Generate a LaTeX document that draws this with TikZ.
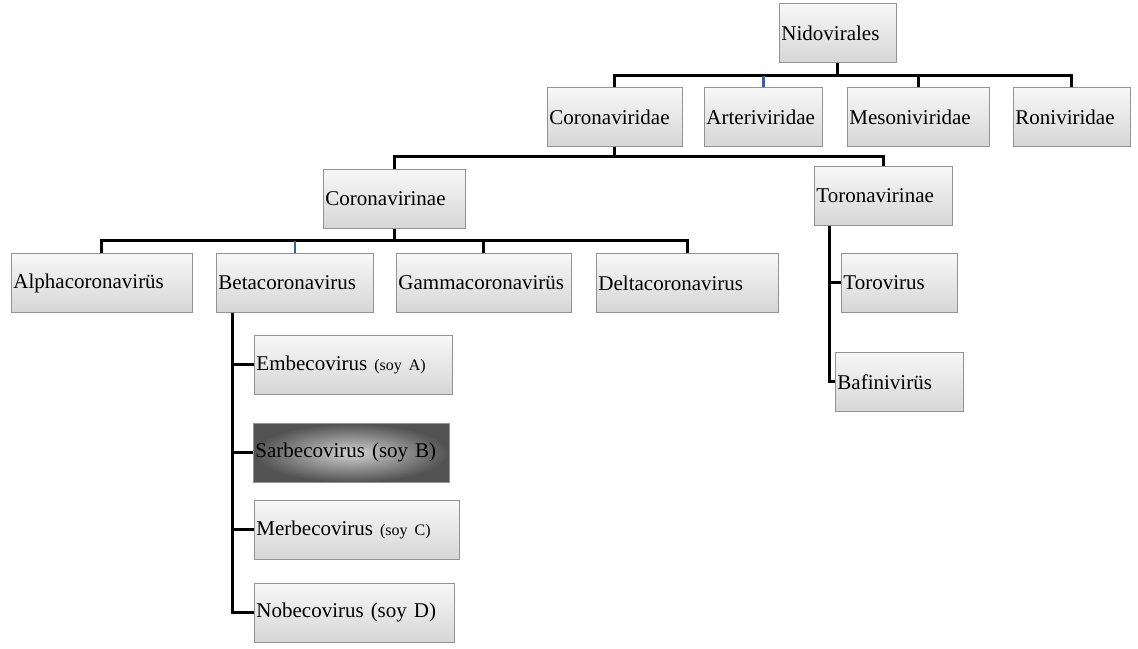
\documentclass[tikz,border=0pt]{standalone}
\usepackage{fontspec}
\setmainfont{Liberation Serif}
\usepackage{xcolor}
\usepackage{tikz}
\usetikzlibrary{positioning}

\definecolor{linkblue}{HTML}{3A5DA8}
\newcommand{\soytext}{\fontsize{16}{19}\selectfont}

\begin{document}
\begin{tikzpicture}
[x=1pt, y=-1pt,
    font=\fontsize{21}{25}\selectfont,
    box/.style={top color=gray!6, bottom color=gray!32,
    rectangle, draw=gray!85, line width=0.9pt, minimum height=59pt,
    inner xsep=2pt, inner ysep=0pt, align=left, anchor=north west},
    darkbox/.style={box, shading=radial, inner color=gray!35, outer color=black!68},
    link/.style={draw=black, line width=3pt},
    bluelink/.style={draw=linkblue, line width=2.2pt}
    ]
    \useasboundingbox (0,0) rectangle (1138,648);

    % order and families
    \node[box, text width=113pt] (nido) at (779,3) {Nidovirales};
    \node[box, text width=131pt] (coronaviridae) at (547,87) {Coronaviridae};
    \node[box, text width=114pt] (arteri) at (704,87) {Arteriviridae};
    \node[box, text width=138pt] (meso) at (847,87) {Mesoniviridae};
    \node[box, text width=113pt] (roni) at (1013,87) {Roniviridae};

    % subfamilies
    \node[box, text width=138pt] (coronavirinae) at (323,169) {Coronavirinae};
    \node[box, text width=134pt] (toronavirinae) at (814,166) {Toronavirinae};

    % genera
    \node[box, text width=177pt] (alpha) at (11,253) {Alphacoronavirüs};
    \node[box, text width=153pt] (beta) at (216,253) {Betacoronavirus};
    \node[box, text width=171pt] (gamma) at (396,253) {Gammacoronavirüs};
    \node[box, text width=178pt] (delta) at (596,253) {Deltacoronavirus};
    \node[box, text width=112pt] (toro) at (841,253) {Torovirus};
    \node[box, text width=124pt] (bafini) at (835,352) {Bafinivirüs};

    % subgenera
    \node[box, text width=194pt] (embe) at (254,335) {Embecovirus {\soytext(soy A)}};
    \node[darkbox, text width=192pt] (sarbe) at (253,423) {Sarbecovirus (soy B)};
    \node[box, text width=201pt] (merbe) at (254,500) {Merbecovirus {\soytext(soy C)}};
    \node[box, text width=196pt] (nobe) at (254,583) {Nobecovirus (soy D)};

    \coordinate (betatrunk) at ([xshift=16pt]beta.south west);
    \coordinate (tortrunk) at ([xshift=15pt]toronavirinae.south west);

    \draw[link] (nido.south) -- ++(0,13) coordinate (nidobar);
    \draw[link] (nidobar) -| (coronaviridae.north);
    \draw[link] (nidobar) -| (meso.north);
    \draw[link] (nidobar) -| (roni.north);
    \draw[bluelink] (arteri.north) -- ++(0,-11);

    \draw[link] (coronaviridae.south) -- ++(0,10) coordinate (famibar);
    \draw[link] (famibar) -| (coronavirinae.north);
    \draw[link] (famibar) -| (toronavirinae.north);

    \draw[link] (coronavirinae.south) -- ++(0,12) coordinate (subbar);
    \draw[link] (subbar) -| (alpha.north);
    \draw[link] (subbar) -| (gamma.north);
    \draw[link] (subbar) -| (delta.north);
    \draw[bluelink] (beta.north) -- ++(0,-12);

    \draw[link] (betatrunk) |- (embe.west);
    \draw[link] (betatrunk) |- (sarbe.west);
    \draw[link] (betatrunk) |- (merbe.west);
    \draw[link] (betatrunk) |- (nobe.west);

    \draw[link] (tortrunk) |- (toro.west);
    \draw[link] (tortrunk) |- (bafini.west);
\end{tikzpicture}
\end{document}
